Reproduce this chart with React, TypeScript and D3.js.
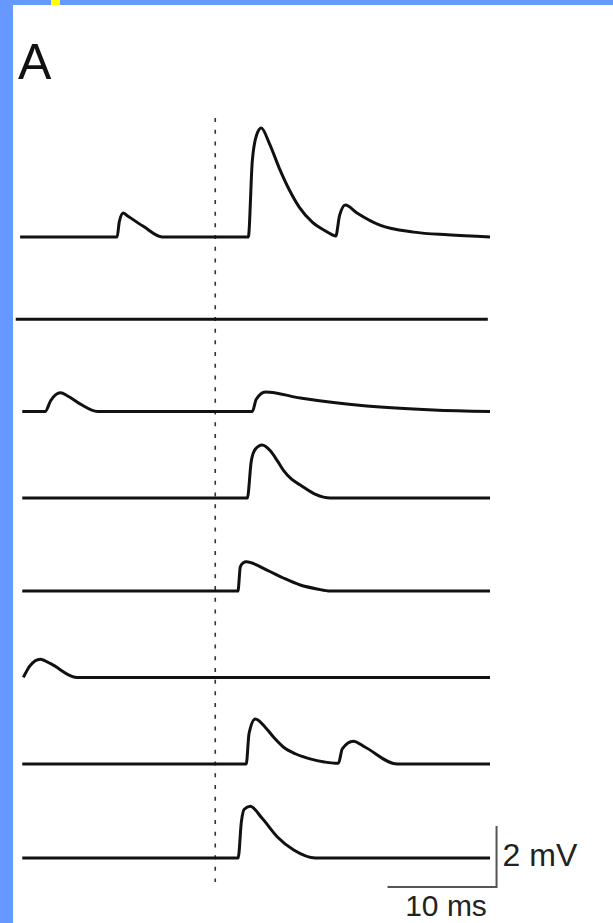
import React from 'react';
import * as d3 from 'd3';

// sweeps: [time ms from stimulus, mV above the sweep's own baseline]
const sweep1 = [
  [-17.9, 0], [-9.0, 0], [-8.8, 0.5], [-8.44, 0.79], [-8.07, 0.7], [-6.6, 0.35], [-4.86, 0],
  [3.03, 0], [3.4, 2.5], [3.8, 3.35], [4.22, 3.57], [4.95, 3.08], [5.87, 2.26], [6.8, 1.54],
  [7.7, 0.98], [8.9, 0.49], [10.0, 0.22], [10.7, 0.08], [11.05, 0.03], [11.4, 0.7], [11.93, 1.05],
  [13.0, 0.79], [15.1, 0.39], [18.2, 0.16], [21.3, 0.07], [25.2, 0],
];
const sweep2 = [[-18.3, 0], [25.0, 0]];
const sweep3 = [
  [-17.7, 0], [-15.6, 0], [-15.1, 0.35], [-14.2, 0.61], [-13.5, 0.5], [-12.4, 0.25], [-10.8, 0],
  [3.4, 0], [3.76, 0.4], [4.6, 0.64], [7.8, 0.44], [13.9, 0.18], [20.0, 0.05], [25.2, 0],
];
const sweep4 = [
  [-17.7, 0], [2.94, 0], [3.3, 1.2], [3.67, 1.6], [4.3, 1.74], [5.05, 1.55], [5.7, 1.22],
  [6.24, 0.92], [7.0, 0.62], [7.8, 0.43], [9.2, 0.12], [10.55, 0], [25.2, 0],
];
const sweep5 = [
  [-17.7, 0], [2.08, 0], [2.3, 0.8], [2.57, 0.93], [2.84, 0.96], [4.74, 0.69], [6.24, 0.43],
  [7.8, 0.2], [9.33, 0.07], [10.55, 0], [25.2, 0],
];
const sweep6 = [
  [-17.6, 0], [-17.0, 0.38], [-16.05, 0.6], [-15.1, 0.45], [-12.7, 0], [25.2, 0],
];
const sweep7 = [
  [-17.7, 0], [2.84, 0], [3.1, 1.0], [3.67, 1.48], [4.6, 1.2], [5.4, 0.86], [6.24, 0.56],
  [7.4, 0.33], [8.7, 0.17], [10.0, 0.07], [11.0, 0.03], [11.3, 0.03], [11.65, 0.5],
  [12.66, 0.75], [13.76, 0.55], [16.7, 0], [25.2, 0],
];
const sweep8 = [
  [-17.7, 0], [2.1, 0], [2.4, 1.2], [2.66, 1.6], [3.2, 1.7], [4.3, 1.3], [5.7, 0.69],
  [7.2, 0.26], [9.2, 0], [25.2, 0],
];
const sweeps = [sweep1, sweep2, sweep3, sweep4, sweep5, sweep6, sweep7, sweep8];

// vertical stacking of the sweeps, in mV below the first one
const sweepOffsets = [0, -2.7, -5.72, -8.56, -11.61, -14.44, -17.28, -20.36];

const panelLabel = 'A';
const scaleTime = 10; // ms
const scaleVolt = 2; // mV
const timeLabel = '10 ms';
const voltLabel = '2 mV';

const W = 613;
const H = 923;

export default function App() {
  const x = d3.scaleLinear().domain([-18, 25.2]).range([19, 490]);
  const y = d3.scaleLinear().domain([0, -20.36]).range([237, 858]);

  const line = (off: number) =>
    d3.line<number[]>()
      .x((d) => x(d[0]))
      .y((d) => y(off + d[1]))
      .curve(d3.curveMonotoneX);

  // scale bar sits under the last sweep
  const last = sweepOffsets[sweepOffsets.length - 1];
  const barT1 = 25.8;
  const barT0 = barT1 - scaleTime;
  const barV0 = last - 0.95;
  const barV1 = barV0 + scaleVolt;

  return (
    <svg width={W} height={H} style={{ position: 'fixed', left: 0, top: 0 }}
      fontFamily="'Liberation Sans', Arial, sans-serif">
      <rect width={W} height={H} fill="#fff" />
      <rect x={0} y={0} width={W} height={5} fill="#6699ff" />
      <rect x={0} y={0} width={13} height={H} fill="#6699ff" />
      <rect x={51} y={0} width={9} height={5} fill="#ffff00" />

      <text x={18} y={79} fontSize={50} fill="#111">{panelLabel}</text>

      {/* stimulus marker */}
      <line x1={x(0)} x2={x(0)} y1={y(3.9)} y2={y(-21.15)}
        stroke="#333" strokeWidth={1.6} strokeDasharray="4 7.7" />

      {sweeps.map((s, i) => (
        <path key={i} d={line(sweepOffsets[i])(s) ?? ''} fill="none" stroke="#111"
          strokeWidth={3} strokeLinejoin="round" strokeLinecap="butt" />
      ))}

      <path d={`M${x(barT0)},${y(barV0)}H${x(barT1)}V${y(barV1)}`}
        fill="none" stroke="#555" strokeWidth={2} />
      <text x={x(barT1) + 6} y={866} fontSize={32} fill="#222">{voltLabel}</text>
      <text x={(x(barT0) + x(barT1)) / 2 + 4} y={916} fontSize={30} fill="#222"
        textAnchor="middle">{timeLabel}</text>
    </svg>
  );
}
